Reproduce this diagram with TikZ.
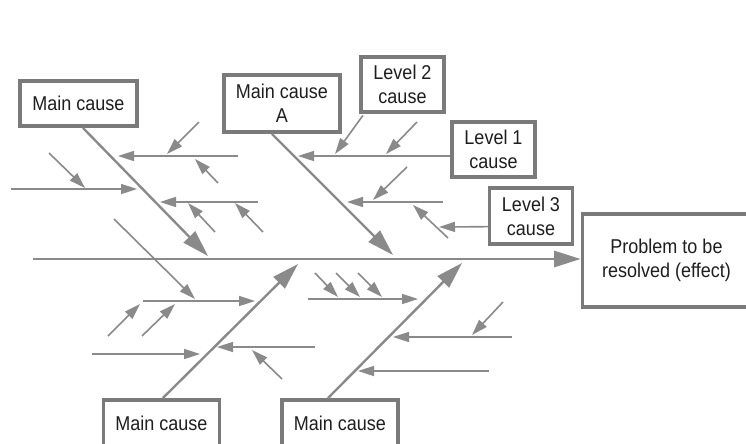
\documentclass[tikz,border=0pt]{standalone}
\usepackage{fontspec}
\setmainfont{Liberation Sans}[FakeStretch=0.9]
\usetikzlibrary{arrows.meta}
\definecolor{linegray}{HTML}{8A8A8A}
\definecolor{boxgray}{HTML}{7A7A7A}
\definecolor{txt}{HTML}{1E1E1E}
\begin{document}
\begin{tikzpicture}[x=0.75pt,y=-0.75pt,
  box/.style={draw=boxgray, line width=2.7pt, fill=white, inner sep=0pt, align=center,
    text=txt, font=\fontsize{15pt}{18pt}\selectfont},
  sub/.style={draw=linegray, line width=1.2pt, -{Triangle[length=12pt,width=7.5pt]}},
  bone/.style={draw=linegray, line width=1.8pt, -{Triangle[length=20pt,width=12pt]}},
  spine/.style={draw=linegray, line width=2.2pt, -{Triangle[length=20pt,width=12pt]}}]
\useasboundingbox (0,0) rectangle (746,443);
\fill[white] (0,0) rectangle (746,443);

% boxes
\node[box, minimum width=88pt, minimum height=34pt] (mcTL) at (78.5,103.5) {Main cause};
\node[box, minimum width=87.4pt, minimum height=43pt] (mcA) at (282,103.5) {Main cause\\A};
\node[box, minimum width=62.6pt, minimum height=41.6pt] (lv2) at (402.5,84.5) {Level 2\\cause};
\node[box, minimum width=62.6pt, minimum height=41.6pt] (lv1) at (493.5,149.5) {Level 1\\cause};
\node[box, minimum width=62pt, minimum height=42.4pt] (lv3) at (531,216) {Level 3\\cause};
\node[box, minimum width=126pt, minimum height=70pt] (prob) at (666.5,260.5) {Problem to be\\resolved (effect)};
\node[box, minimum width=87pt, minimum height=34.7pt] (mcBL) at (161.5,423) {Main cause};
\node[box, minimum width=87.4pt, minimum height=34.7pt] (mcBR) at (340,423) {Main cause};

% spine
\coordinate (sp0) at (33,259);
\draw[spine] (sp0) -- (sp0 -| prob.west);

% main bones
\coordinate (t1) at (208,256);
\coordinate (tA) at (393,255);
\coordinate (tBL) at (298,264);
\coordinate (tBR) at (462,263);
\draw[bone] ([xshift=3.4pt]mcTL.south) -- (t1);
\draw[bone] ([xshift=-7.5pt]mcA.south) -- (tA);
\draw[bone] ([xshift=1pt]mcBL.north) -- (tBL);
\draw[bone] ([xshift=-9pt]mcBR.north) -- (tBR);

% top-left bone sub-causes
\coordinate (a0) at (238,156); \coordinate (a1) at (118,156);
\draw[sub] (a0) -- (a1);
\coordinate (a2) at (199,122); \coordinate (a3) at (167,154);
\draw[sub] (a2) -- (a3);
\coordinate (a4) at (218,183); \coordinate (a5) at (195,159);
\draw[sub] (a4) -- (a5);

\coordinate (b0) at (11,189); \coordinate (b1) at (137,189);
\draw[sub] (b0) -- (b1);
\coordinate (b2) at (49,153); \coordinate (b3) at (85,188);
\draw[sub] (b2) -- (b3);

\coordinate (c0) at (258,202); \coordinate (c1) at (160,202);
\draw[sub] (c0) -- (c1);
\coordinate (c2) at (215,232); \coordinate (c3) at (188,203);
\draw[sub] (c2) -- (c3);
\coordinate (c4) at (263,232); \coordinate (c5) at (235,203);
\draw[sub] (c4) -- (c5);

% bottom-left bone sub-causes
\coordinate (d0) at (143,301); \coordinate (d1) at (255,301);
\draw[sub] (d0) -- (d1);
\coordinate (d2) at (114,219); \coordinate (d3) at (195,299);
\draw[sub] (d2) -- (d3);
\coordinate (d4) at (108,336); \coordinate (d5) at (140,304);
\draw[sub] (d4) -- (d5);
\coordinate (d6) at (142,336); \coordinate (d7) at (175,304);
\draw[sub] (d6) -- (d7);

\coordinate (e0) at (92,354); \coordinate (e1) at (200,354);
\draw[sub] (e0) -- (e1);

\coordinate (f0) at (315,347); \coordinate (f1) at (217,347);
\draw[sub] (f0) -- (f1);
\coordinate (f2) at (282,379); \coordinate (f3) at (252,350);
\draw[sub] (f2) -- (f3);

% bone A sub-causes
\coordinate (g1) at (298,156);
\draw[sub] ([yshift=-4.9pt]lv1.west) -- (g1);
\coordinate (g3) at (335,154);
\draw[sub] ([xshift=3pt,yshift=-1pt]lv2.south west) -- (g3);
\coordinate (g4) at (417,122); \coordinate (g5) at (386,154);
\draw[sub] (g4) -- (g5);

\coordinate (h0) at (443,202); \coordinate (h1) at (347,202);
\draw[sub] (h0) -- (h1);
\coordinate (h2) at (407,167); \coordinate (h3) at (373,200);
\draw[sub] (h2) -- (h3);
\coordinate (h4) at (448,238); \coordinate (h5) at (413,205);
\draw[sub] (h4) -- (h5);
\coordinate (h7) at (439,227);
\draw[sub] ([yshift=-8pt]lv3.west) -- (h7);

% bottom-right bone sub-causes
\coordinate (i0) at (308,299); \coordinate (i1) at (418,299);
\draw[sub] (i0) -- (i1);
\coordinate (i2) at (315,273); \coordinate (i3) at (338,297);
\draw[sub] (i2) -- (i3);
\coordinate (i4) at (336,273); \coordinate (i5) at (360,297);
\draw[sub] (i4) -- (i5);
\coordinate (i6) at (358,273); \coordinate (i7) at (382,297);
\draw[sub] (i6) -- (i7);

\coordinate (j0) at (512,337); \coordinate (j1) at (393,337);
\draw[sub] (j0) -- (j1);
\coordinate (j2) at (503,302); \coordinate (j3) at (472,335);
\draw[sub] (j2) -- (j3);

\coordinate (k0) at (489,371); \coordinate (k1) at (358,371);
\draw[sub] (k0) -- (k1);
\end{tikzpicture}
\end{document}
